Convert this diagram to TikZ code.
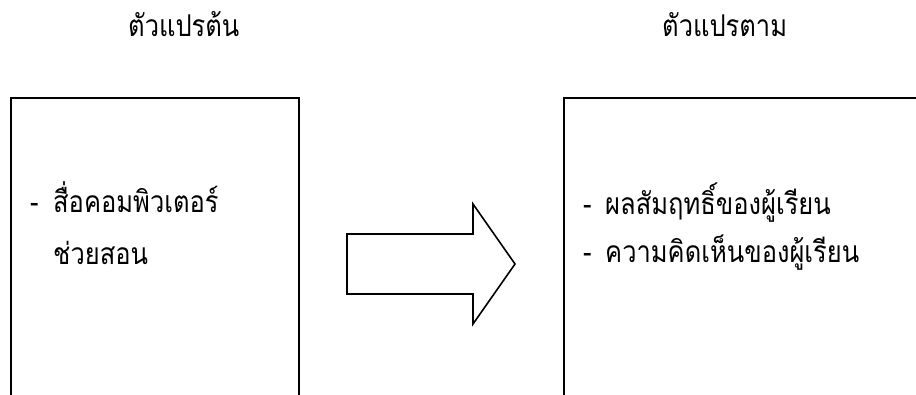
\documentclass[tikz,border=0pt]{standalone}
\usepackage{fontspec}
\newfontfamily\thaifont[Script=Thai,FakeStretch=0.85]{Loma}
\begin{document}
\begin{tikzpicture}[x=1pt,y=-1pt,
  boxline/.style={draw=black,line width=1.8pt},
  txt/.style={inner sep=0pt,anchor=base west,font=\thaifont\fontsize{30}{34}\selectfont}]
\useasboundingbox (0,0) rectangle (916,394);
% boxes (open at the bottom / right, cut by picture edge)
\draw[boxline] (11,400) -- (11,98) -- (299,98) -- (299,400);
\draw[boxline] (564,400) -- (564,98) -- (920,98);
% headings
\node[txt] (h1) at (128,36) {ตัวแปรต้น};
\node[txt] (h2) at (662,36) {ตัวแปรตาม};
% left text
\node[txt] (ld) at (30,212) {-};
\node[txt] (l1) at (53,212) {สื่อคอมพิวเตอร์};
\node[txt] (l2) at (53,264) {ช่วยสอน};
% right text
\node[txt] (rd1) at (583,214) {-};
\node[txt] (r1) at (605,214) {ผลสัมฤทธิ์ของผู้เรียน};
\node[txt] (rd2) at (583,262) {-};
\node[txt] (r2) at (605,262) {ความคิดเห็นของผู้เรียน};
% block arrow
\draw[line width=1.6pt,line join=miter,fill=white]
  (347,234) -- (473,234) -- (473,204) -- (515,264) -- (473,324) -- (473,294) -- (347,294) -- cycle;
\end{tikzpicture}
\end{document}
